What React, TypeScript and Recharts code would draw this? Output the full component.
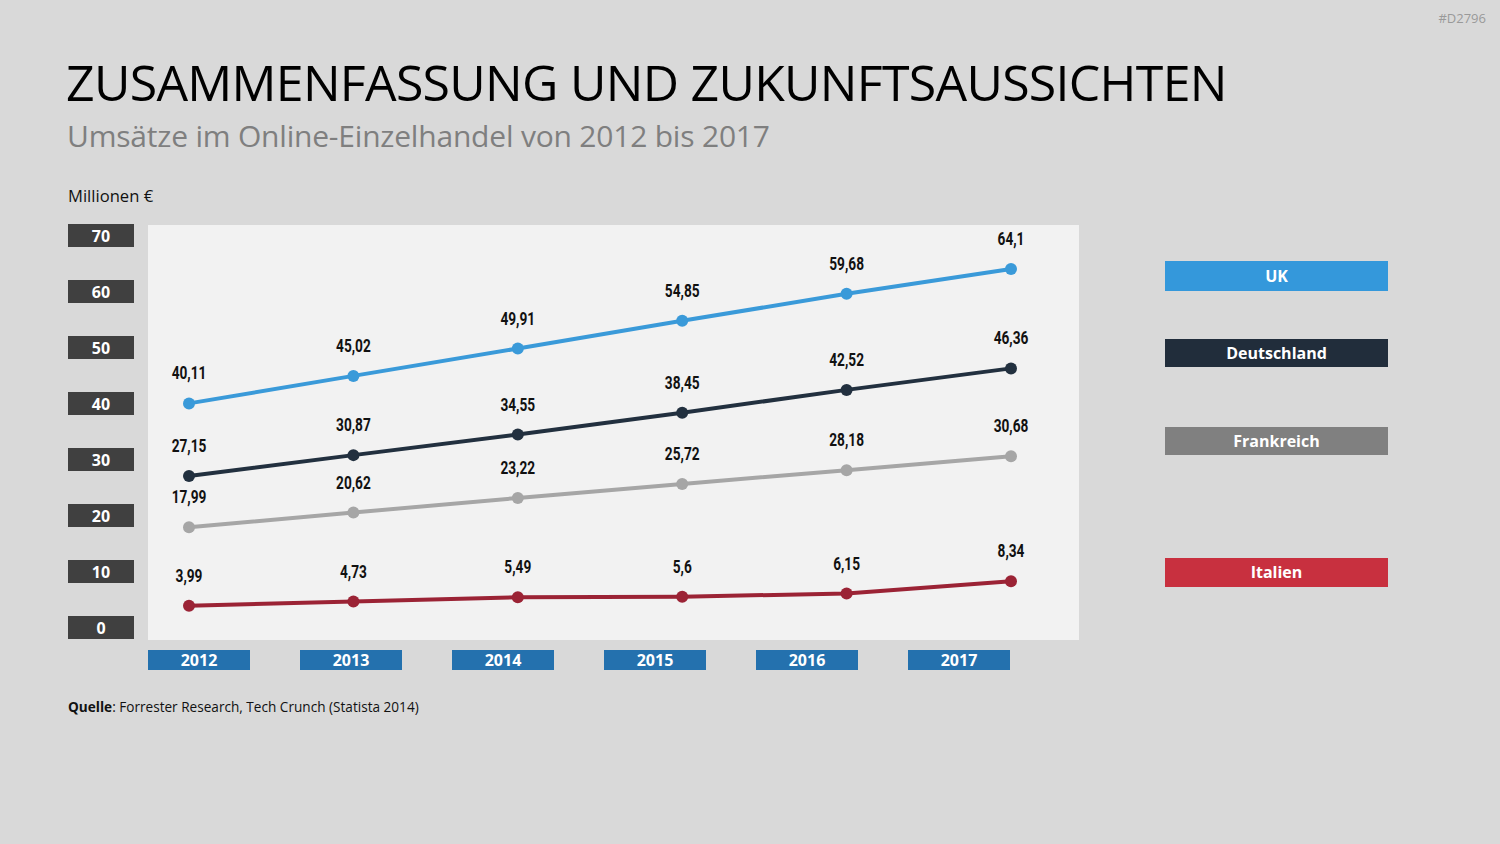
import { LineChart, Line, XAxis, YAxis, CartesianGrid, LabelList } from "recharts"

const years = ["2012", "2013", "2014", "2015", "2016", "2017"]
const uk = [40.11, 45.02, 49.91, 54.85, 59.68, 64.1]
const deutschland = [27.15, 30.87, 34.55, 38.45, 42.52, 46.36]
const frankreich = [17.99, 20.62, 23.22, 25.72, 28.18, 30.68]
const italien = [3.99, 4.73, 5.49, 5.6, 6.15, 8.34]
const yTicks = [0, 10, 20, 30, 40, 50, 60, 70]

const series = [
  { key: "uk", name: "UK", line: "#3A9AD9", legend: "#3498DB", top: 261, h: 30 },
  { key: "de", name: "Deutschland", line: "#22303F", legend: "#212D3B", top: 339, h: 28 },
  { key: "fr", name: "Frankreich", line: "#A6A6A6", legend: "#808080", top: 427, h: 28 },
  { key: "it", name: "Italien", line: "#9B2335", legend: "#C8303F", top: 558, h: 29 }
]

const data = years.map((year, i) => ({
  year,
  uk: uk[i],
  de: deutschland[i],
  fr: frankreich[i],
  it: italien[i]
}))

const fmt = (v: number) => String(v).replace(".", ",")

function YTick(props: any) {
  const { x, y, payload } = props
  return (
    <g>
      <rect x={x - 80} y={y - 12} width={66} height={23} fill="#404040" />
      <text
        x={x - 47}
        y={y + 6}
        textAnchor="middle"
        fill="#fff"
        fontSize={16}
        fontWeight={700}
        fontFamily="Open Sans"
      >
        {payload.value}
      </text>
    </g>
  )
}

function XTick(props: any) {
  const { x, y, payload } = props
  return (
    <g>
      <rect x={x - 51} y={y + 10} width={102} height={20} fill="#2471AE" />
      <text
        x={x}
        y={y + 26}
        textAnchor="middle"
        fill="#fff"
        fontSize={16}
        fontWeight={700}
        fontFamily="Open Sans"
      >
        {payload.value}
      </text>
    </g>
  )
}

// narrow bold numbers, squeezed horizontally since no condensed font is installed
function ValueLabel(props: any) {
  const { x, y, value } = props
  return (
    <text
      transform={`translate(${x}, ${y - 24}) scale(0.72, 1)`}
      textAnchor="middle"
      fill="#111"
      fontSize={19}
      fontWeight={700}
      fontFamily="Roboto"
    >
      {fmt(value)}
    </text>
  )
}

export default function App() {
  return (
    <div
      style={{
        position: "absolute",
        left: 0,
        top: 0,
        width: 1500,
        height: 844,
        background: "#D9D9D9",
        fontFamily: "Open Sans",
        overflow: "hidden"
      }}
    >
      <div style={{ position: "absolute", right: 14, top: 12, fontSize: 13, lineHeight: 1, color: "#999" }}>
        #D2796
      </div>
      <div
        style={{
          position: "absolute",
          left: 66,
          top: 57,
          fontSize: 50,
          letterSpacing: -0.7,
          lineHeight: 1,
          color: "#000"
        }}
      >
        ZUSAMMENFASSUNG UND ZUKUNFTSAUSSICHTEN
      </div>
      <div
        style={{
          position: "absolute",
          left: 67,
          top: 121,
          fontSize: 30,
          letterSpacing: -0.2,
          lineHeight: 1,
          color: "#7F7F7F"
        }}
      >
        Umsätze im Online-Einzelhandel von 2012 bis 2017
      </div>
      <div style={{ position: "absolute", left: 68, top: 188, fontSize: 16.6, lineHeight: 1, color: "#111" }}>
        Millionen €
      </div>
      <div style={{ position: "absolute", left: 68, top: 700, fontSize: 13.6, lineHeight: 1, color: "#111" }}>
        <b>Quelle</b>: Forrester Research, Tech Crunch (Statista 2014)
      </div>

      <LineChart
        width={1500}
        height={844}
        data={data}
        margin={{ top: 225, right: 421, bottom: 164, left: 68 }}
        style={{ position: "absolute", left: 0, top: 0 }}
      >
        <CartesianGrid fill="#F2F2F2" horizontal={false} vertical={false} />
        <XAxis xAxisId="pts" dataKey="year" hide padding={{ left: 41, right: 68 }} />
        <XAxis
          xAxisId="labels"
          dataKey="year"
          height={40}
          padding={{ left: 51, right: 120 }}
          axisLine={false}
          tickLine={false}
          tickSize={0}
          tickMargin={0}
          tick={<XTick />}
          interval={0}
        />
        <YAxis
          width={80}
          domain={[-2.143, 71.964]}
          ticks={yTicks}
          axisLine={false}
          tickLine={false}
          tickSize={0}
          tickMargin={0}
          tick={<YTick />}
          interval={0}
        />
        {series.map((s) => (
          <Line
            key={s.key}
            xAxisId="pts"
            dataKey={s.key}
            name={s.name}
            stroke={s.line}
            strokeWidth={4}
            dot={{ r: 6, fill: s.line, stroke: "none" }}
            activeDot={false}
            isAnimationActive={false}
          >
            <LabelList dataKey={s.key} content={<ValueLabel />} />
          </Line>
        ))}
      </LineChart>

      {series.map((s) => (
        <div
          key={s.key}
          style={{
            position: "absolute",
            left: 1165,
            top: s.top,
            width: 223,
            height: s.h,
            background: s.legend,
            color: "#fff",
            fontWeight: 700,
            fontSize: 16,
            lineHeight: s.h + "px",
            textAlign: "center"
          }}
        >
          {s.name}
        </div>
      ))}
    </div>
  )
}
